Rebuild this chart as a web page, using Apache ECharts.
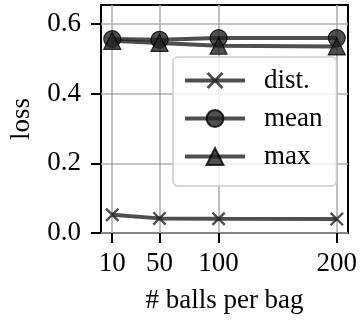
<!DOCTYPE html>
<html>
<head>
<meta charset="utf-8">
<script src="https://cdn.jsdelivr.net/npm/echarts@6/dist/echarts.min.js"></script>
<style>
  html, body { margin: 0; padding: 0; background: #fff; }
  #chart { width: 360px; height: 320px; }
</style>
</head>
<body>
<div id="chart"></div>
<script>
const ballsPerBag = [10, 50, 100, 200];
const distLoss = [0.0525, 0.042, 0.041, 0.040];
const meanLoss = [0.557, 0.555, 0.560, 0.560];
const maxLoss = [0.552, 0.546, 0.538, 0.536];
const yTicks = [0, 0.2, 0.4, 0.6];

const FONT = "'Liberation Serif', 'Times New Roman', serif";
const lineColor = "rgba(35, 35, 35, 0.8)";
const crossPath = "path://M0,1.2 L1.2,0 L5,3.8 L8.8,0 L10,1.2 L6.2,5 L10,8.8 L8.8,10 L5,6.2 L1.2,10 L0,8.8 L3.8,5 Z";

function pairs(vals) {
  return ballsPerBag.map((b, i) => [b, vals[i]]);
}

function makeSeries(name, vals, symbol, size) {
  return {
    name: name,
    type: "line",
    data: pairs(vals),
    symbol: symbol,
    symbolSize: size,
    showAllSymbol: true,
    lineStyle: { color: lineColor, width: 4 },
    itemStyle: {
      color: lineColor,
      borderColor: "rgba(0, 0, 0, 0.8)",
      borderWidth: symbol === crossPath ? 0 : 1.2,
    },
    emphasis: { disabled: true },
  };
}

document.addEventListener("DOMContentLoaded", function () {
  const chart = echarts.init(document.getElementById("chart"));
  const option = {
    animation: false,
    textStyle: { fontFamily: FONT },
    grid: {
      left: 97, right: 12, top: 5, bottom: 87,
      show: true, borderColor: "#000", borderWidth: 2,
      backgroundColor: "transparent",
    },
    xAxis: {
      type: "value",
      min: 0.5,
      max: 209.5,
      name: "# balls per bag",
      nameLocation: "middle",
      nameGap: 54,
      nameTextStyle: { fontFamily: FONT, fontSize: 27, color: "#000" },
      axisLine: { show: false },
      axisTick: { show: true, length: 10, customValues: ballsPerBag, lineStyle: { color: "#000", width: 2 } },
      axisLabel: { customValues: ballsPerBag, margin: 17, fontFamily: FONT, fontSize: 27, color: "#000" },
      splitLine: { show: true, lineStyle: { color: "#b0b0b0", width: 1.6 } },
    },
    yAxis: {
      type: "value",
      min: 0,
      max: 0.655,
      name: "loss",
      nameLocation: "middle",
      nameRotate: 90,
      nameGap: 66,
      nameTextStyle: { fontFamily: FONT, fontSize: 27, color: "#000" },
      axisLine: { show: false },
      axisTick: { show: true, length: 10, customValues: yTicks, lineStyle: { color: "#000", width: 2 } },
      axisLabel: {
        customValues: yTicks,
        margin: 20,
        fontFamily: FONT,
        fontSize: 27,
        color: "#000",
        formatter: (v) => v.toFixed(1),
      },
      splitLine: { show: true, lineStyle: { color: "#b0b0b0", width: 1.6 } },
    },
    legend: {
      orient: "vertical",
      left: 173,
      top: 57,
      padding: [10, 14, 16, 10],
      itemGap: 11,
      itemWidth: 60,
      itemHeight: 21,
      lineStyle: { width: 4 },
      backgroundColor: "rgba(255, 255, 255, 0.8)",
      borderColor: "#cccccc",
      borderWidth: 1.5,
      borderRadius: 5,
      textStyle: { fontFamily: FONT, fontSize: 27, color: "#000", padding: [0, 0, 0, 14] },
      data: ["dist.", "mean", "max"],
    },
    series: [
      makeSeries("dist.", distLoss, crossPath, 14),
      makeSeries("mean", meanLoss, "circle", 17),
      makeSeries("max", maxLoss, "triangle", 17),
    ],
  };
  chart.setOption(option);
});
</script>
</body>
</html>
